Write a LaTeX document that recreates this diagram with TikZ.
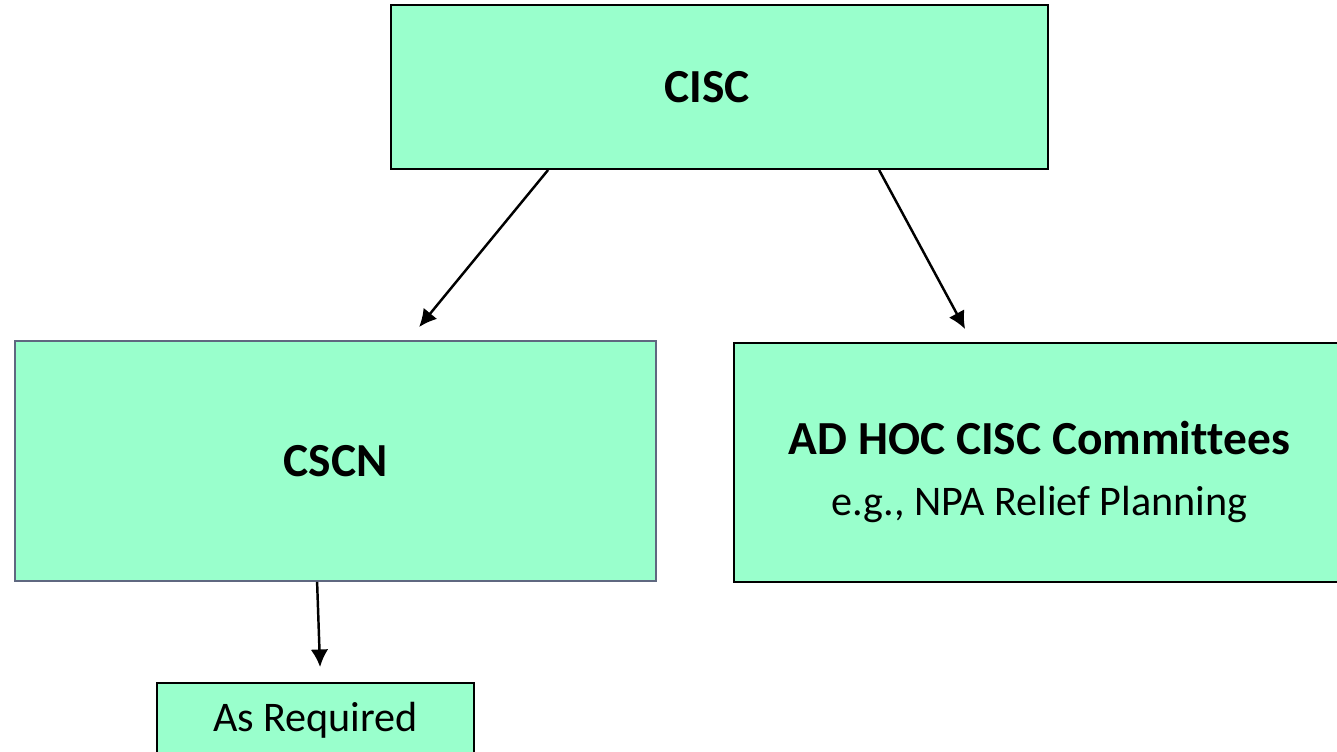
\documentclass[tikz,border=0pt]{standalone}
\usepackage{fontspec}
\setmainfont{Carlito}[Ligatures=NoCommon]
\usetikzlibrary{positioning}
\usetikzlibrary{calc}
\usetikzlibrary{arrows.meta}
\definecolor{mint}{RGB}{153,255,204}
\definecolor{slate}{RGB}{95,104,128}

\begin{document}
\begin{tikzpicture}[
    x=0.02cm, y=-0.02cm,
    >={Latex[length=10pt,width=10pt]},
    % node styles
    box/.style = {
      draw=black,
      fill=mint,
      line width=1.1pt,
      inner sep=0pt,
      align=center
    },
    big/.style = {font=\fontsize{27}{32}\selectfont\bfseries},
    small/.style = {font=\fontsize{24}{29}\selectfont},
    % arrow styles
    arr/.style = {->, line width=1.4pt, draw=black}
  ]
  \useasboundingbox (0,0) rectangle (1337,751);
  \clip (0,0) rectangle (1337,751);

  % --- Nodes
  \node[box, big, minimum width=13.14cm, minimum height=3.28cm] (cisc) at (719.5,87) {CISC\hspace*{0.5cm}};

  \node[box, big, draw=slate, minimum width=12.82cm, minimum height=4.8cm] (cscn) at (335.5,461) {CSCN};

  \node[box, minimum width=12.22cm, minimum height=4.78cm] (adhoc) at (1039.5,462.5)
    {{\fontsize{27}{32}\selectfont\bfseries\rule{0pt}{30pt}AD HOC CISC Committees}\\[17pt]
     {\fontsize{24}{29}\selectfont e.g., NPA Relief Planning}};

  \node[box, small, minimum width=6.34cm, minimum height=1.48cm] (asreq) at (315.5,720) {As Required};

  % --- Arrows
  \draw[arr] ($(cisc.south west)+(158,0)$) -- ($(cscn.north west)+(405,-13)$);
  \draw[arr] ($(cisc.south west)+(489,0)$) -- ($(adhoc.north west)+(232,-13)$);
  \draw[arr] ($(cscn.south west)+(303,0)$) -- ($(asreq.north west)+(164,-15)$);

\end{tikzpicture}
\end{document}
